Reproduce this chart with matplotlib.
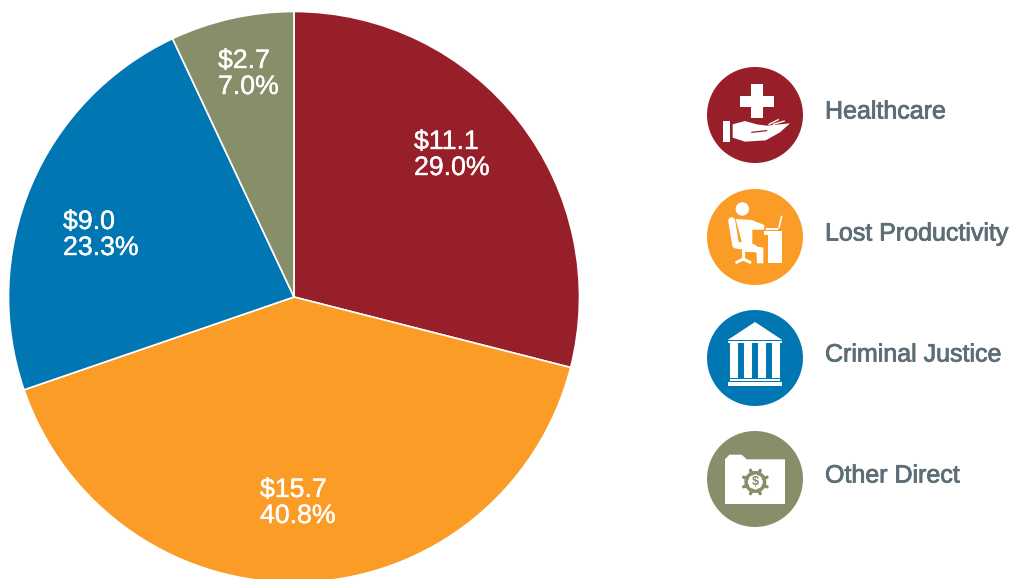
import math
import matplotlib
matplotlib.use('Agg')
import matplotlib.pyplot as plt
import matplotlib.patches as mpatches
import matplotlib.patheffects as pe

plt.rcParams['font.family'] = ['Liberation Sans', 'DejaVu Sans']

categories = ['Healthcare', 'Lost Productivity', 'Criminal Justice', 'Other Direct']
dollars = ['$11.1', '$15.7', '$9.0', '$2.7']
percents = [29.0, 40.8, 23.3, 7.0]
colors = ['#961f2a', '#fa9c26', '#0077b3', '#868f69']

# label anchors in picture pixels (left edge, first baseline)
label_pos = [(414, 149), (260, 497), (63, 229), (218, 68)]
legend_y = [115, 237, 358, 479]

W, H = 1015, 579
fig = plt.figure(figsize=(W / 100, H / 100), dpi=100)
ax = fig.add_axes([0, 0, 1, 1])

ax.pie(percents, colors=colors, startangle=90, counterclock=False,
       center=(294, H - 297), radius=285.5,
       wedgeprops={'edgecolor': 'white', 'linewidth': 1.2})
ax.set_xlim(0, W)
ax.set_ylim(0, H)
ax.set_aspect('equal')
ax.axis('off')

heavy = [pe.withStroke(linewidth=0.3, foreground='white')]
for (x, y), d, p in zip(label_pos, dollars, percents):
    ax.text(x, H - y, d, color='white', fontsize=19.2, ha='left', va='baseline', path_effects=heavy)
    ax.text(x, H - y - 26, '{:.1f}%'.format(p), color='white', fontsize=19.2, ha='left', va='baseline', path_effects=heavy)

# legend circles and names
for name, col, y in zip(categories, colors, legend_y):
    ax.add_patch(mpatches.Circle((755, H - y), 48, color=col, lw=0))
    ax.text(825, H - y + 3.5, name, color='#5d6d76', fontsize=18, ha='left', va='center',
            path_effects=[pe.withStroke(linewidth=0.6, foreground='#5d6d76')])


def P(zx, zy, y0):
    return (695 + zx / 3, H - (y0 + zy / 3))


def poly(pts, y0, col='white'):
    ax.add_patch(mpatches.Polygon([P(a, b, y0) for a, b in pts], closed=True, color=col, lw=0))


def line(pts, y0, w, col='white'):
    xy = [P(a, b, y0) for a, b in pts]
    ax.plot([q[0] for q in xy], [q[1] for q in xy], color=col, lw=w,
            solid_capstyle='round', solid_joinstyle='round')


# healthcare
poly([(168, 88), (204, 88), (204, 122), (236, 122), (236, 155), (204, 155), (204, 188),
      (168, 188), (168, 155), (135, 155), (135, 122), (168, 122)], 55)
poly([(85, 198), (105, 198), (105, 260), (85, 260)], 55)
poly([(113, 208), (150, 198), (185, 208), (215, 212), (285, 205), (255, 232), (212, 256),
      (150, 260), (113, 248)], 55)
line([(170, 232), (215, 227)], 55, 0.9, colors[0])
line([(222, 208), (250, 194)], 55, 1.0)
line([(235, 208), (268, 198)], 55, 1.0)

# lost productivity
ax.add_patch(mpatches.Circle(P(142, 462, 55), 6.7, color='white', lw=0))
poly([(122, 492), (170, 495), (208, 510), (208, 524), (172, 524), (172, 572), (205, 578),
      (205, 625), (186, 625), (184, 592), (148, 590)], 55)
line([(110, 497), (122, 570), (175, 578)], 55, 5)
line([(145, 585), (145, 612)], 55, 2.2)
line([(125, 622), (145, 612), (165, 622)], 55, 2.2)
poly([(208, 528), (262, 528), (262, 625), (218, 625), (218, 540), (208, 540)], 55)
poly([(212, 518), (250, 518), (250, 525), (212, 525)], 55)
line([(252, 518), (260, 484)], 55, 1.2)

# criminal justice
poly([(98, 120), (180, 66), (262, 120)], 300)
poly([(100, 122), (260, 122), (260, 128), (100, 128)], 300)
for cx in [117, 159, 201, 243]:
    poly([(cx - 12, 130), (cx + 12, 130), (cx + 12, 234), (cx - 12, 234)], 300)
poly([(104, 236), (256, 236), (256, 243), (104, 243)], 300)
poly([(100, 246), (260, 246), (260, 258), (100, 258)], 300)

# other direct
poly([(90, 612), (90, 478), (103, 464), (140, 464), (155, 478), (270, 478), (270, 612)], 300)
for a in range(0, 360, 45):
    t = math.radians(a + 22.5)
    line([(181 + 26 * math.cos(t), 546 + 26 * math.sin(t)),
          (181 + 38 * math.cos(t), 546 + 38 * math.sin(t))], 300, 2.4, colors[3])
ax.add_patch(mpatches.Circle(P(181, 546, 300), 11, color=colors[3], lw=0))
ax.add_patch(mpatches.Circle(P(181, 546, 300), 7.5, color='white', lw=0))
x, y = P(181, 546, 300)
ax.text(x, y, '$', color=colors[3], fontsize=9, fontweight='bold', ha='center', va='center')

fig.savefig('out.png', dpi=100)
